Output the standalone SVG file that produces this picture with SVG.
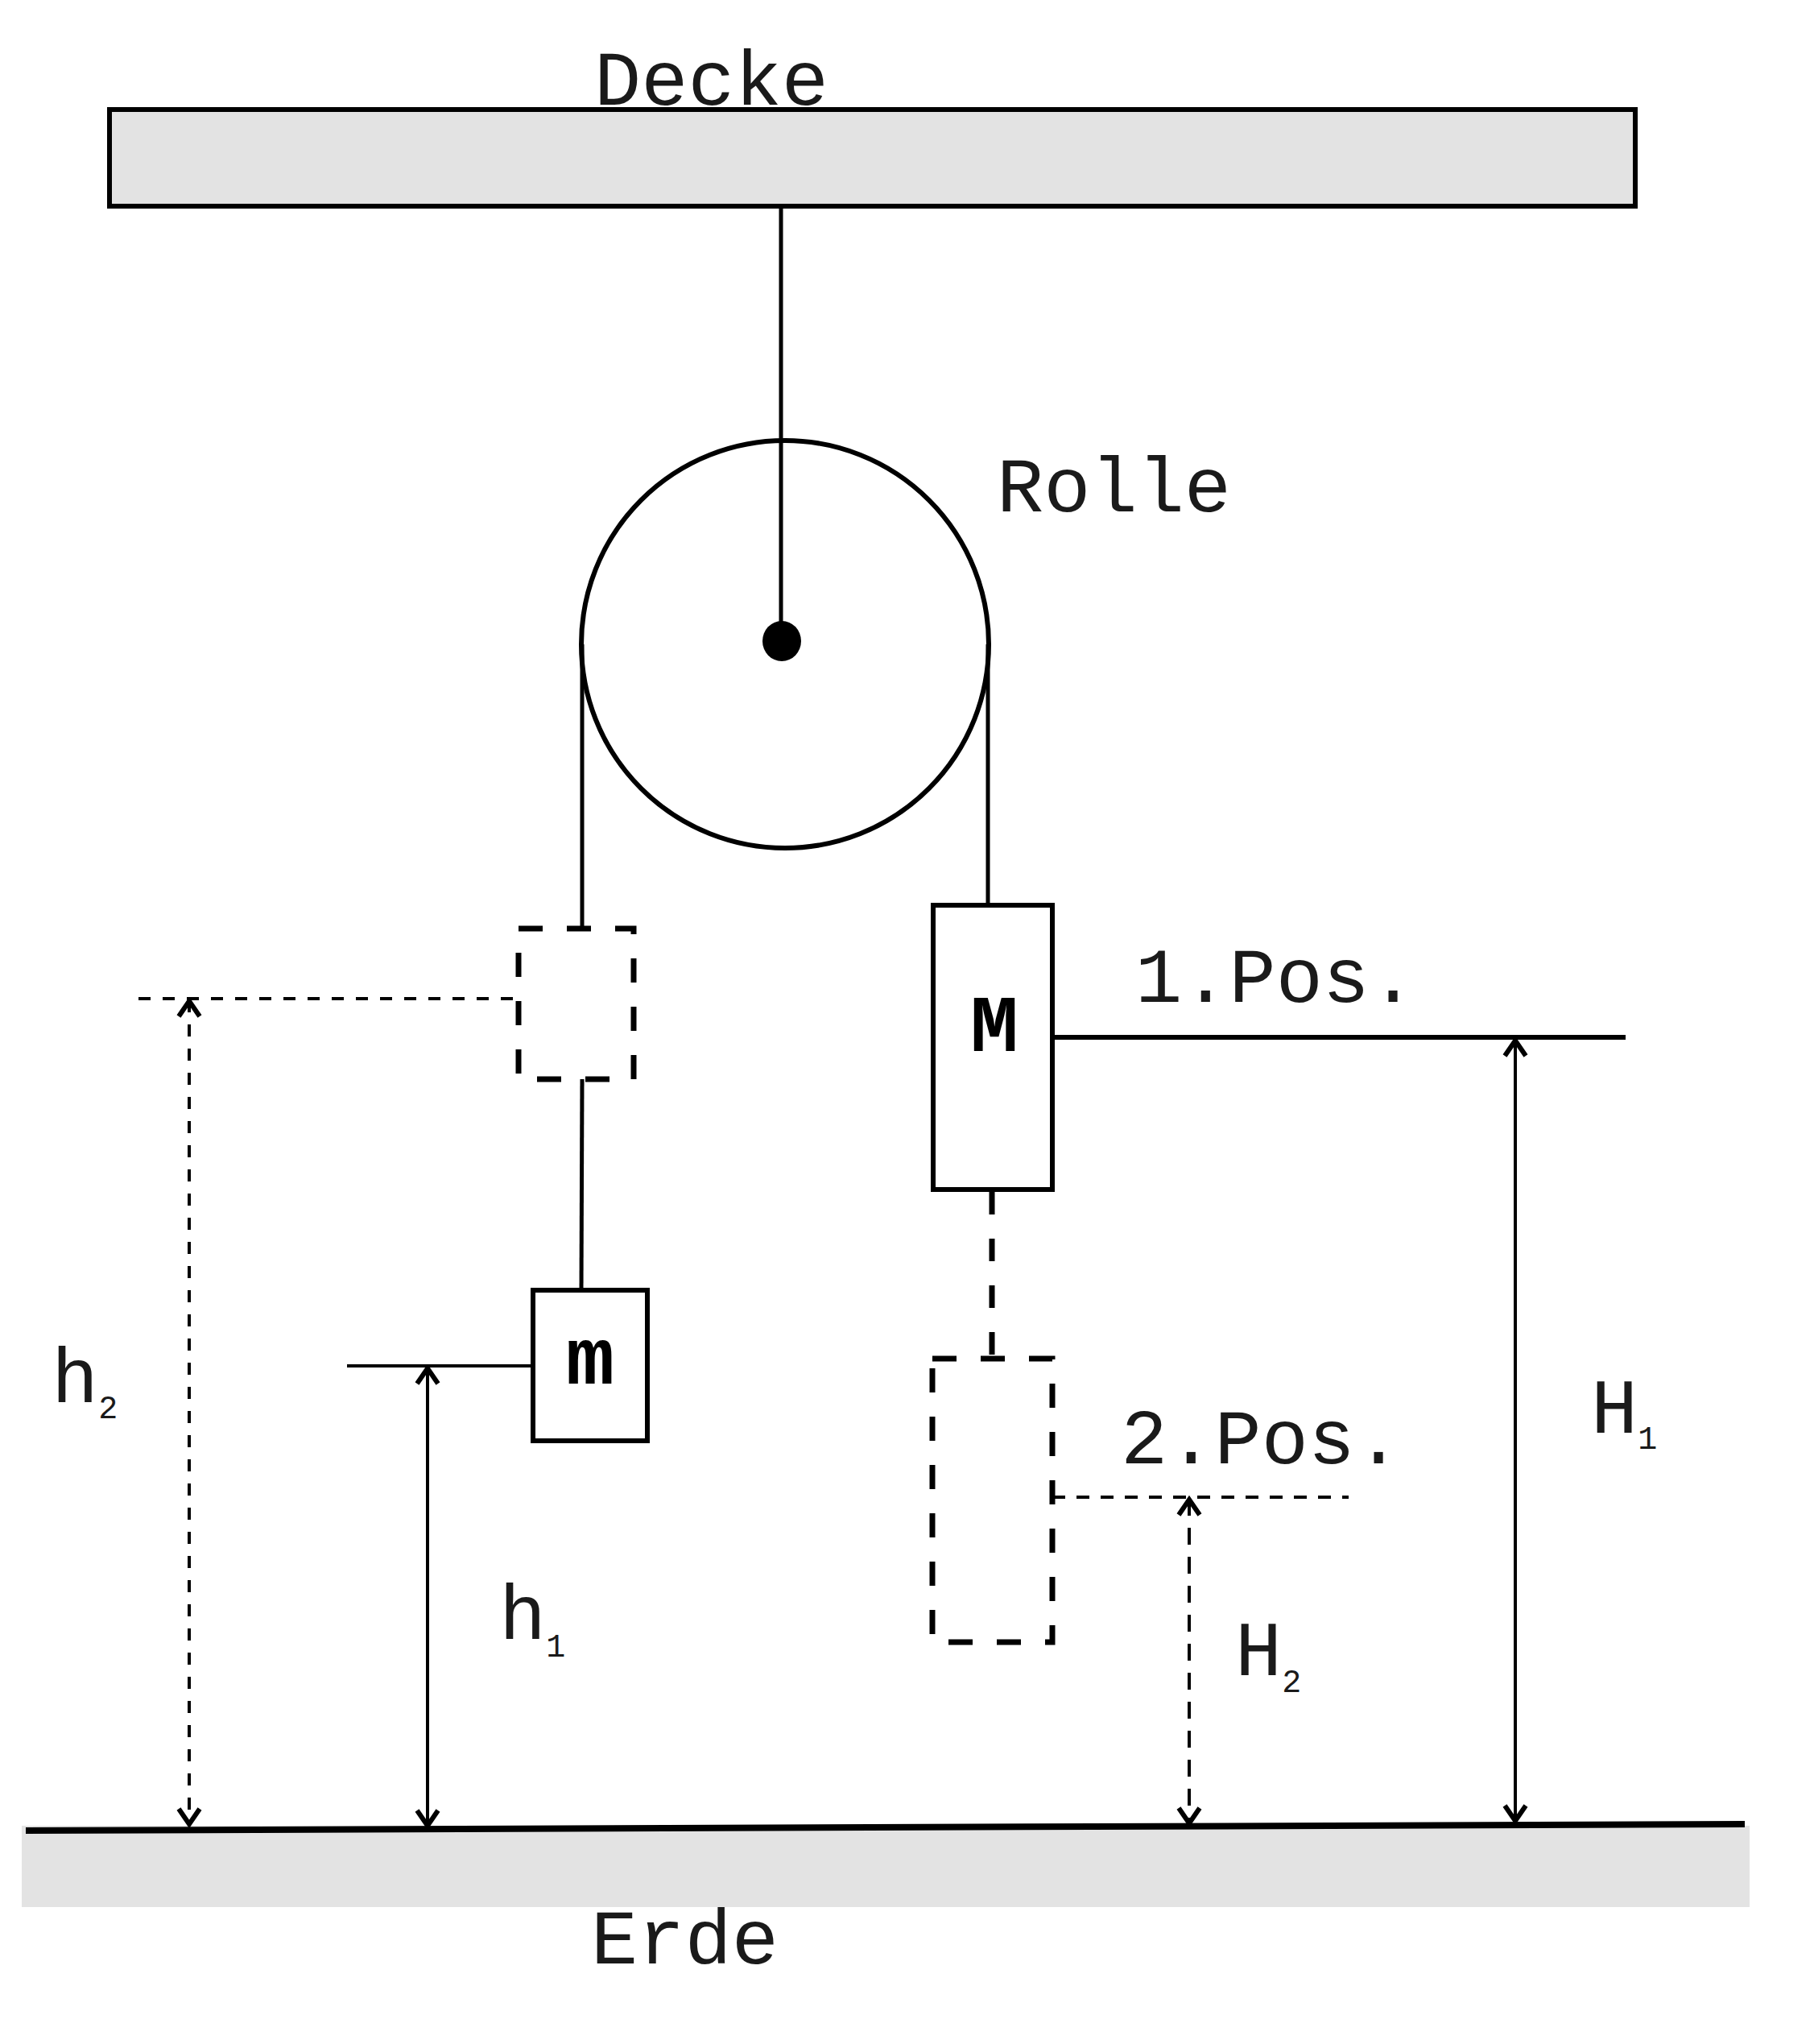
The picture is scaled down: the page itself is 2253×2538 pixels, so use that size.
<svg xmlns="http://www.w3.org/2000/svg" width="2253" height="2538" viewBox="0 0 2253 2538">
<style>
  .lbl { font-family: "Liberation Mono", "DejaVu Sans Mono", monospace; font-size: 97px; fill: #1a1a1a; }
  .bold { font-family: "Liberation Mono", "DejaVu Sans Mono", monospace; font-size: 100px; font-weight: bold; fill: #000; }
  .sub { font-size: 40px; }
  .box { fill: #fff; stroke: #000; stroke-width: 6; }
  .dbox { fill: none; stroke: #000; stroke-width: 7; stroke-dasharray: 30 30; }
  .rope { stroke: #000; stroke-width: 5; fill: none; }
  .dim { stroke: #000; stroke-width: 4; fill: none; }
  .dash { stroke-dasharray: 15 15; }
  .slab { fill: #e3e3e3; }
</style>
<defs>
  <marker id="ah" markerUnits="userSpaceOnUse" viewBox="-30 -20 40 40" refX="0" refY="0" markerWidth="40" markerHeight="40" orient="auto-start-reverse" overflow="visible">
    <path d="M-20,-13 L-1,0 L-20,13" fill="none" stroke="#000" stroke-width="6" stroke-dasharray="none"/>
  </marker>
</defs>
<rect width="2253" height="2538" fill="#fff"/>

<g id="decke">
  <rect x="136" y="136" width="1895" height="120" fill="#e3e3e3" stroke="#000" stroke-width="6"/>
  <text class="lbl" x="738" y="130">Decke</text>
</g>

<g id="erde">
  <rect class="slab" x="27" y="2267" width="2146" height="101"/>
  <line x1="32" y1="2273" x2="2167" y2="2265" stroke="#000" stroke-width="8"/>
  <text class="lbl" x="734" y="2438">Erde</text>
</g>

<g id="rolle">
  <circle cx="975" cy="800" r="253" fill="none" stroke="#000" stroke-width="6"/>
  <ellipse cx="971" cy="796" rx="24" ry="25" fill="#000"/>
  <text class="lbl" x="1238" y="635">Rolle</text>
</g>

<g id="connectors">
  <line class="rope" x1="970" y1="256" x2="970" y2="796"/>
  <line class="rope" x1="723" y1="800" x2="723" y2="1153"/>
  <line class="rope" x1="723" y1="1340" x2="722" y2="1602"/>
  <line class="rope" x1="1227" y1="800" x2="1227" y2="1124"/>
  <line x1="1232" y1="1480" x2="1232" y2="1687" stroke="#000" stroke-width="7" stroke-dasharray="28 30"/>
  <!-- reference lines -->
  <line class="dim dash" x1="172" y1="1240" x2="644" y2="1240"/>
  <line class="dim" x1="431" y1="1696" x2="662" y2="1696"/>
  <line x1="1307" y1="1288" x2="2019" y2="1288" stroke="#000" stroke-width="6"/>
  <line class="dim" x1="1307" y1="1859" x2="1675" y2="1859" stroke-width="4.5" stroke-dasharray="16 14"/>
  <!-- dimension arrows -->
  <line class="dim dash" x1="235" y1="1242" x2="235" y2="2266" marker-start="url(#ah)" marker-end="url(#ah)"/>
  <line class="dim" x1="531" y1="1698" x2="531" y2="2268" marker-start="url(#ah)" marker-end="url(#ah)"/>
  <line class="dim" x1="1477" y1="1861" x2="1477" y2="2265" stroke-dasharray="21 15" marker-start="url(#ah)" marker-end="url(#ah)"/>
  <line class="dim" x1="1882" y1="1291" x2="1882" y2="2262" marker-start="url(#ah)" marker-end="url(#ah)"/>
</g>

<g id="m-pos1">
  <rect class="dbox" x="644" y="1153" width="143" height="187"/>
</g>

<g id="m-box">
  <rect class="box" x="662" y="1602" width="142" height="187"/>
  <text class="bold" x="733" y="1718" text-anchor="middle">m</text>
</g>

<g id="M-box">
  <rect class="box" x="1159" y="1124" width="148" height="353"/>
  <text class="bold" x="1235" y="1305" text-anchor="middle">M</text>
</g>

<g id="M-pos2">
  <rect class="dbox" x="1158" y="1687" width="149" height="352"/>
</g>

<g id="labels">
  <text class="lbl" x="1410" y="1244">1.Pos.</text>
  <text class="lbl" x="1392" y="1817">2.Pos.</text>
  <text class="lbl" x="64" y="1741">h<tspan class="sub" dy="20">2</tspan></text>
  <text class="lbl" x="620" y="2035">h<tspan class="sub" dy="22">1</tspan></text>
  <text class="lbl" x="1976" y="1779">H<tspan class="sub" dy="20">1</tspan></text>
  <text class="lbl" x="1534" y="2080">H<tspan class="sub" dy="21">2</tspan></text>
</g>
</svg>
